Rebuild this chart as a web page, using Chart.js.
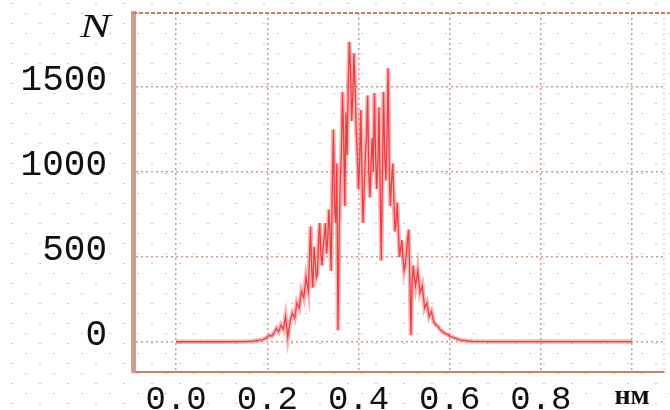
<!DOCTYPE html>
<html>
<head>
<meta charset="utf-8">
<script src="https://cdn.jsdelivr.net/npm/chart.js@4/dist/chart.umd.min.js"></script>
<style>
  html, body { margin: 0; padding: 0; background: #ffffff; }
  #wrap { width: 670px; height: 410px; }
</style>
</head>
<body>
<div id="wrap"><canvas id="c" width="670" height="410"></canvas></div>
<script>
// particle size, nm
const sizes = [
  0.00, 0.05, 0.10, 0.15,
  0.170, 0.175, 0.180, 0.185, 0.190, 0.195,
  0.200, 0.205, 0.210, 0.215, 0.220, 0.225, 0.230, 0.235, 0.240, 0.245,
  0.250, 0.255, 0.260, 0.265, 0.270, 0.275, 0.280, 0.285, 0.290,
  0.2950, 0.2975,
  0.3000, 0.3025, 0.3050, 0.3075, 0.3100, 0.3125, 0.3150, 0.3175, 0.3200, 0.3225,
  0.3250, 0.3275, 0.3300, 0.3325, 0.3350, 0.3375, 0.3400, 0.3425, 0.3450, 0.3475,
  0.3500, 0.3525, 0.3550, 0.3575, 0.3600, 0.3625, 0.3650, 0.3675, 0.3700, 0.3725,
  0.3750, 0.3775, 0.3800, 0.3825, 0.3850, 0.3875, 0.3900, 0.3925, 0.3950, 0.3975,
  0.4000, 0.4025, 0.4050, 0.4075, 0.4100, 0.4125, 0.4150, 0.4175, 0.4200, 0.4225,
  0.4250, 0.4275, 0.4300, 0.4325, 0.4350, 0.4375, 0.4400, 0.4425, 0.4450, 0.4475,
  0.4500, 0.4525, 0.4550, 0.4575, 0.4600, 0.4625, 0.4650, 0.4675, 0.4700, 0.4725,
  0.4750, 0.4775, 0.4800, 0.4825, 0.4850, 0.4875, 0.4900, 0.4925, 0.4950, 0.4975,
  0.5000, 0.5025, 0.5050, 0.5075, 0.5100, 0.5125, 0.5150, 0.5175, 0.5200, 0.5225,
  0.525, 0.530, 0.535, 0.540, 0.545,
  0.550, 0.555, 0.560, 0.565, 0.570, 0.575, 0.580, 0.585, 0.590, 0.595,
  0.600, 0.605, 0.610, 0.615, 0.620, 0.625, 0.630, 0.635, 0.640, 0.645, 0.650,
  0.70, 0.75, 0.80, 0.85, 0.90, 0.95, 1.00
];
// counts N
const counts = [
  2, 2, 2, 3,
  5, 8, 10, 12, 15, 20,
  30, 40, 35, 55, 80, 60, 100, 75, 150, 30,
  120, 170, 140, 230, 200, 300, 260, 380, 300,
  680, 420,
  320, 560, 480, 380, 400, 600, 700, 520, 450, 560,
  620, 700, 520, 600, 780, 650, 420, 900, 1250, 800,
  700, 1050, 70, 600, 950, 1100, 1470, 1200, 800, 1350,
  1100, 1500, 1765, 1600, 1300, 1450, 1700, 1500, 1250, 1100,
  900, 1050, 1365, 1000, 700, 900, 1100, 1200, 1450, 1000,
  850, 1050, 1200, 1000, 1465, 1100, 900, 1050, 1380, 900,
  480, 1000, 1470, 1100, 950, 1200, 1610, 1000, 800, 950,
  1050, 850, 650, 700, 820, 650, 500, 550, 600, 500,
  420, 450, 520, 600, 660, 400, 40, 350, 450, 380,
  330, 420, 290, 330, 200,
  230, 150, 180, 120, 100, 90, 70, 60, 50, 45,
  35, 30, 25, 20, 15, 12, 10, 8, 6, 5, 4,
  3, 3, 3, 3, 3, 3, 3
];
const xTicks = [0.0, 0.2, 0.4, 0.6, 0.8, 1.0];
const xTickLabels = ['0.0', '0.2', '0.4', '0.6', '0.8', 'нм'];
const yTicks = [0, 500, 1000, 1500];
const yTickLabels = ['0', '500', '1000', '1500'];
const yAxisLabel = 'N';

const points = sizes.map((s, i) => ({ x: s, y: counts[i] }));

const decor = {
  id: 'decor',
  beforeDraw(chart) {
    const ctx = chart.ctx;
    ctx.save();
    ctx.fillStyle = '#ffffff';
    ctx.fillRect(0, 0, chart.width, chart.height);
    ctx.fillStyle = 'rgba(150,150,150,0.5)';
    let row = 0;
    for (let y = 3; y < chart.height; y += 10, row++) {
      const off = (row % 2) ? 14 : 0;
      for (let x = 11 + off; x < chart.width; x += 28) {
        ctx.fillRect(x, y, 2, 1);
      }
    }
    ctx.restore();
  },
  afterDraw(chart) {
    const ctx = chart.ctx;
    const a = chart.chartArea;
    ctx.save();
    // top frame
    ctx.strokeStyle = '#c87a5a';
    ctx.lineWidth = 2;
    ctx.setLineDash([4, 2]);
    ctx.beginPath();
    ctx.moveTo(a.left, a.top);
    ctx.lineTo(a.right + 6, a.top);
    ctx.stroke();
    // right frame
    ctx.strokeStyle = 'rgba(200,140,130,0.6)';
    ctx.lineWidth = 1;
    ctx.setLineDash([2, 3]);
    ctx.beginPath();
    ctx.moveTo(a.right, a.top);
    ctx.lineTo(a.right, a.bottom);
    ctx.stroke();
    // axis letter
    ctx.setLineDash([]);
    ctx.fillStyle = '#111111';
    ctx.font = 'italic 34px "Liberation Serif"';
    ctx.textBaseline = 'alphabetic';
    ctx.textAlign = 'left';
    ctx.translate(80, 37);
    ctx.scale(1.35, 1);
    ctx.fillText(yAxisLabel, 0, 0);
    ctx.restore();
  }
};

new Chart(document.getElementById('c'), {
  type: 'line',
  data: {
    datasets: [{
      data: points,
      borderColor: 'rgba(240,110,110,0.5)',
      borderWidth: 4.5,
      pointRadius: 0,
      tension: 0,
      fill: false
    }, {
      data: points,
      borderColor: 'rgb(225,18,28)',
      borderWidth: 1.3,
      pointRadius: 0,
      tension: 0,
      fill: false
    }]
  },
  options: {
    responsive: false,
    animation: false,
    layout: { padding: { top: 13, right: 6, left: 0, bottom: 0 } },
    plugins: { legend: { display: false }, tooltip: { enabled: false } },
    scales: {
      x: {
        type: 'linear',
        min: -0.0945,
        max: 1.07,
        afterBuildTicks: (axis) => { axis.ticks = xTicks.map(v => ({ value: v })); },
        afterFit: (axis) => { axis.height = 38; axis.paddingLeft = 0; axis.paddingRight = 0; },
        ticks: {
          autoSkip: false,
          maxRotation: 0,
          padding: 8,
          color: '#111111',
          callback: (v, i) => xTickLabels[i],
          font: (c) => (c.index === xTicks.length - 1)
            ? { family: '"Liberation Serif"', size: 28, weight: 'bold' }
            : { family: '"Liberation Mono"', size: 34 }
        },
        grid: {
          drawTicks: false,
          color: 'rgba(200,130,110,0.8)',
          lineWidth: 1.5
        },
        border: { display: true, color: '#c98070', width: 2, dash: [2, 3] }
      },
      y: {
        type: 'linear',
        min: -176,
        max: 1935,
        afterBuildTicks: (axis) => { axis.ticks = yTicks.map(v => ({ value: v })); },
        afterFit: (axis) => { axis.width = 133; axis.paddingTop = 0; axis.paddingBottom = 0; },
        ticks: {
          padding: 26,
          labelOffset: -7,
          color: '#111111',
          callback: (v, i) => yTickLabels[i],
          font: { family: '"Liberation Mono"', size: 36 }
        },
        grid: {
          drawTicks: false,
          color: 'rgba(200,130,110,0.8)',
          lineWidth: 1.5
        },
        border: { display: true, color: '#d69a8c', width: 5, dash: [2, 3] }
      }
    }
  },
  plugins: [decor]
});
</script>
</body>
</html>
